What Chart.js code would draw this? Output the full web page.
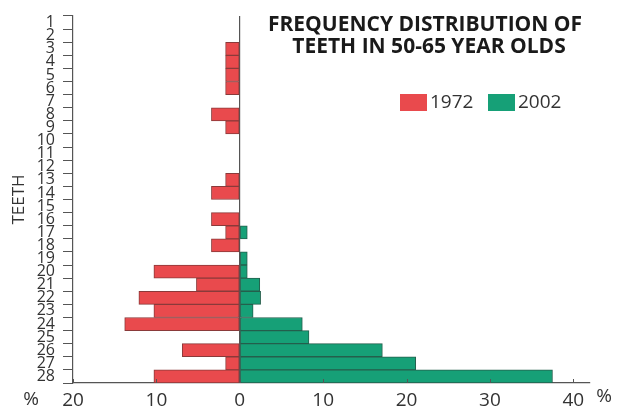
<!DOCTYPE html>
<html>
<head>
<meta charset="utf-8">
<script src="https://cdn.jsdelivr.net/npm/chart.js@4"></script>
<style>
	html, body { margin: 0; padding: 0; background: #fff; }
	#wrap { width: 633px; height: 415px; position: relative; }
</style>
</head>
<body>
<div id="wrap"><canvas id="teeth-canvas"></canvas></div>
<script>
const teeth = [
	"1", "2", "3", "4", "5", "6", "7", "8", "9", "10", "11", "12", "13", "14",
	"15", "16", "17", "18", "19", "20", "21", "22", "23", "24", "25", "26", "27", "28",
];
// percentages
const pct1972 = [
	0, 0, 1.7, 1.7, 1.7, 1.7, 0, 3.4, 1.7, 0, 0, 0, 1.7, 3.4,
	0, 3.4, 1.7, 3.4, 0, 10.3, 5.2, 12.1, 10.3, 13.8, 0, 6.9, 1.7, 10.3,
];
const pct2002 = [
	0, 0, 0, 0, 0, 0, 0, 0, 0, 0, 0, 0, 0, 0,
	0, 0, 0.9, 0, 0.9, 0.9, 2.4, 2.5, 1.6, 7.5, 8.3, 17.1, 21.1, 37.5,
];
const xTicks = [-20, -10, 0, 10, 20, 30, 40];

const axisColor = "#555";
const textColor = "#333";

Chart.defaults.font.family = "Open Sans";
Chart.defaults.color = textColor;

// title, legend and the two "%" marks sit inside the plot, so draw them here
const extraText = {
	id: "extraText",
	afterDraw(chart) {
		const ctx = chart.ctx;
		ctx.save();

		// little tick marks pointing up from the bottom axis
		const xs = chart.scales.x;
		ctx.strokeStyle = axisColor;
		ctx.lineWidth = 1;
		xs.ticks.forEach((t) => {
			const px = Math.round(xs.getPixelForValue(t.value)) + 0.5;
			ctx.beginPath();
			ctx.moveTo(px, xs.top);
			ctx.lineTo(px, xs.top - 4);
			ctx.stroke();
		});

		ctx.fillStyle = "#1a1a1a";
		ctx.textAlign = "center";
		ctx.textBaseline = "middle";
		ctx.font = "bold 21px 'Open Sans'";
		ctx.fillText("FREQUENCY DISTRIBUTION OF", 425, 25);
		ctx.fillText("TEETH IN 50-65 YEAR OLDS", 429, 47);

		ctx.fillStyle = textColor;
		ctx.font = "19px 'Open Sans'";
		ctx.fillText("%", 31, 400);
		ctx.fillText("%", 604, 397);

		// legend
		const spots = [400, 488];
		ctx.textAlign = "left";
		chart.data.datasets.forEach((ds, i) => {
			const x = spots[i];
			ctx.fillStyle = ds.backgroundColor;
			ctx.fillRect(x, 94, 27, 17);
			ctx.fillStyle = textColor;
			ctx.fillText(ds.label, x + 30, 103);
		});
		ctx.restore();
	},
};

const teethChart = new Chart(document.getElementById("teeth-canvas"), {
	type: "bar",
	data: {
		labels: teeth,
		datasets: [
			{
				label: "1972",
				data: pct1972.map((v) => -v),
				backgroundColor: "#e94a4d",
				borderColor: "#8a3a3a",
				borderWidth: 1,
				borderSkipped: false,
				barPercentage: 1,
				categoryPercentage: 1,
			},
			{
				label: "2002",
				data: pct2002,
				backgroundColor: "#16a077",
				borderColor: "#245f4c",
				borderWidth: 1,
				borderSkipped: false,
				barPercentage: 1,
				categoryPercentage: 1,
			},
		],
	},
	options: {
		indexAxis: "y",
		responsive: true,
		maintainAspectRatio: false,
		animation: false,
		layout: {
			padding: { top: 13, right: 43, left: 0, bottom: 0 },
		},
		plugins: {
			legend: { display: false },
			tooltip: { enabled: false },
		},
		scales: {
			x: {
				stacked: true,
				min: -20,
				max: 42,
				afterBuildTicks: (s) => {
					s.ticks = xTicks.map((v) => ({ value: v }));
				},
				afterFit: (s) => {
					s.height = 32;
				},
				ticks: {
					callback: (v) => Math.abs(v),
					font: { size: 19 },
					color: textColor,
					padding: 6,
					maxRotation: 0,
				},
				grid: {
					drawTicks: false,
					color: (c) => (c.tick && c.tick.value === 0 ? axisColor : "transparent"),
					lineWidth: 1.2,
				},
				border: { display: true, color: axisColor, width: 1.2 },
			},
			y: {
				stacked: true,
				afterFit: (s) => {
					s.width = 73;
				},
				title: {
					display: true,
					text: "TEETH",
					font: { size: 17 },
					color: textColor,
					padding: { top: 9, bottom: 0 },
				},
				ticks: {
					autoSkip: false,
					font: { size: 16, lineHeight: 1 },
					color: textColor,
					padding: 8,
				},
				grid: {
					offset: true,
					drawOnChartArea: false,
					drawTicks: true,
					tickLength: 10,
					color: axisColor,
				},
				border: { display: true, color: axisColor, width: 1.2 },
			},
		},
	},
	plugins: [extraText],
});
</script>
</body>
</html>
